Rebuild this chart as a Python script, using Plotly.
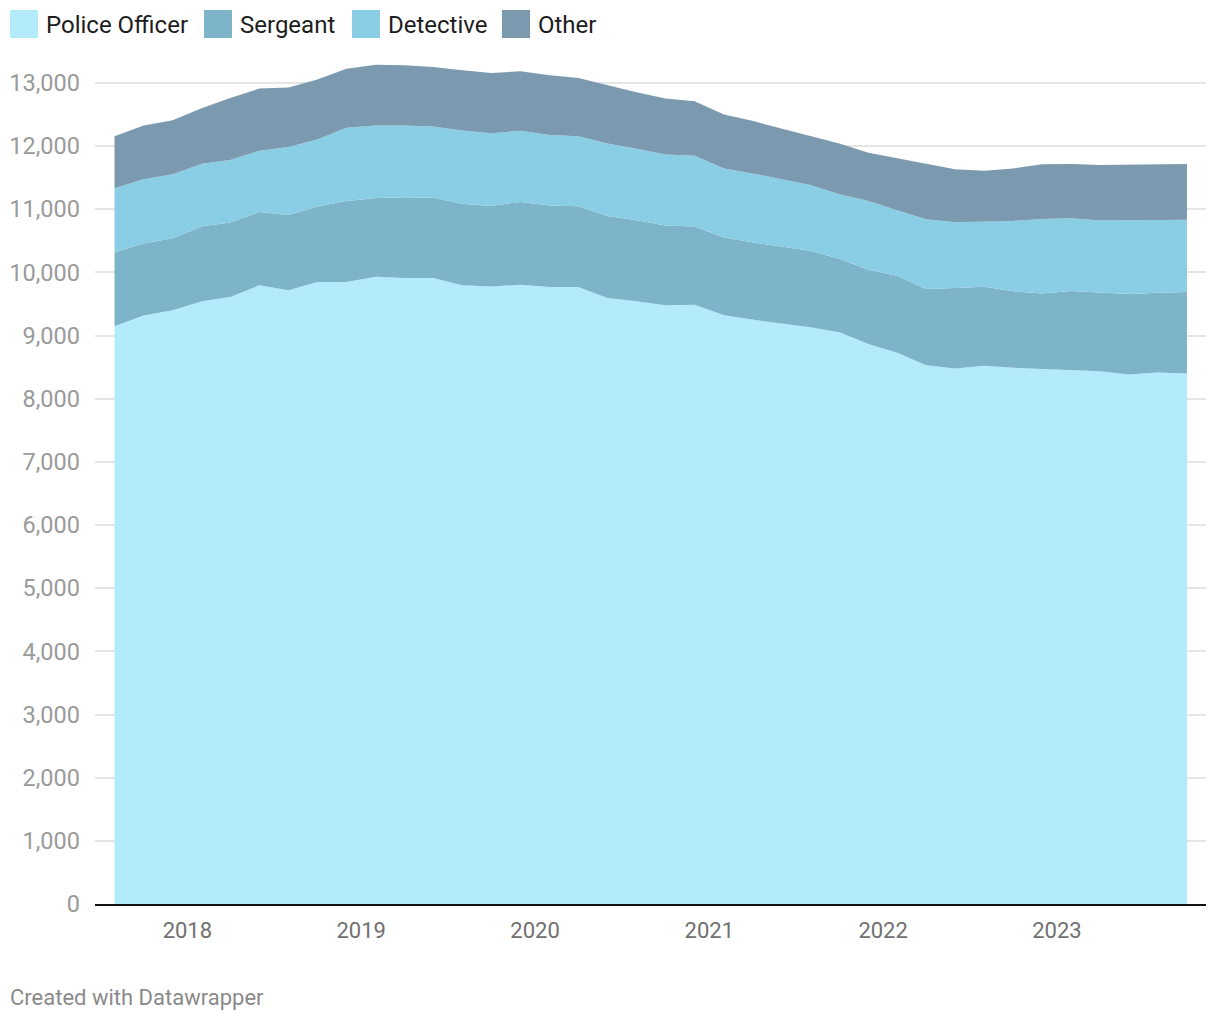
import plotly.graph_objects as go

dates = [
    "2017-08-01", "2017-10-01", "2017-12-01",
    "2018-02-01", "2018-04-01", "2018-06-01", "2018-08-01", "2018-10-01", "2018-12-01",
    "2019-02-01", "2019-04-01", "2019-06-01", "2019-08-01", "2019-10-01", "2019-12-01",
    "2020-02-01", "2020-04-01", "2020-06-01", "2020-08-01", "2020-10-01", "2020-12-01",
    "2021-02-01", "2021-04-01", "2021-06-01", "2021-08-01", "2021-10-01", "2021-12-01",
    "2022-02-01", "2022-04-01", "2022-06-01", "2022-08-01", "2022-10-01", "2022-12-01",
    "2023-02-01", "2023-04-01", "2023-06-01", "2023-08-01", "2023-10-01",
]

police_officer = [
    9147, 9316, 9400, 9542, 9611, 9795, 9716, 9847, 9847, 9930,
    9911, 9911, 9795, 9779, 9805, 9768, 9768, 9595, 9542, 9479,
    9489, 9321, 9253, 9195, 9132, 9053, 8868, 8726, 8532, 8479,
    8521, 8489, 8474, 8458, 8437, 8384, 8416, 8400,
]
sergeant = [
    1169, 1142, 1142, 1190, 1178, 1163, 1195, 1195, 1285, 1250,
    1278, 1273, 1294, 1274, 1311, 1290, 1279, 1300, 1285, 1263,
    1237, 1232, 1226, 1216, 1210, 1163, 1174, 1219, 1205, 1274,
    1253, 1211, 1194, 1247, 1247, 1274, 1263, 1289,
]
detective = [
    1016, 1016, 1011, 989, 990, 968, 1073, 1063, 1157, 1145,
    1137, 1127, 1158, 1152, 1126, 1116, 1111, 1147, 1131, 1126,
    1121, 1094, 1089, 1068, 1042, 1021, 1090, 1035, 1105, 1042,
    1026, 1116, 1179, 1153, 1137, 1168, 1158, 1143,
]
other = [
    826, 852, 858, 884, 984, 985, 942, 948, 937, 964,
    953, 942, 953, 953, 942, 947, 921, 921, 894, 885,
    864, 853, 832, 800, 779, 805, 763, 825, 869, 837,
    811, 831, 864, 858, 879, 879, 879, 884,
]

series_names = ["Police Officer", "Sergeant", "Detective", "Other"]
series_values = [police_officer, sergeant, detective, other]
series_colors = ["#b3ebfd", "#7eb4ca", "#8acee6", "#7b9aaf"]

year_ticks = ["2018-01-01", "2019-01-01", "2020-01-01", "2021-01-01", "2022-01-01", "2023-01-01"]
year_labels = ["2018", "2019", "2020", "2021", "2022", "2023"]

# page has an 8px body margin: work in page pixels, convert to figure pixels
OFF = 8
W, H = 1220 - OFF, 1020 - OFF
PLOT_L, PLOT_R, PLOT_T, PLOT_B = 95, 1206, 64, 904  # page pixels
L = PLOT_L - OFF
R = W - (PLOT_R - OFF)
T = PLOT_T - OFF
B = H - (PLOT_B - OFF)
PW, PH = PLOT_R - PLOT_L, PLOT_B - PLOT_T


def px_x(p):
    return (p - PLOT_L) / PW


def px_y(p):
    return (PLOT_B - p) / PH


fig = go.Figure()
for name, vals, col in zip(series_names, series_values, series_colors):
    fig.add_trace(go.Scatter(
        x=dates, y=vals, name=name, stackgroup="one", mode="lines",
        line=dict(width=0, color=col), fillcolor=col, showlegend=False,
        hoverinfo="x+y+name",
    ))

# custom legend (square swatches)
legend_x = [10, 204, 352, 502]
for name, col, lx in zip(series_names, series_colors, legend_x):
    fig.add_shape(type="rect", xref="paper", yref="paper",
                  x0=px_x(lx), x1=px_x(lx + 28), y0=px_y(38), y1=px_y(10),
                  fillcolor=col, line=dict(width=0), layer="above")
    fig.add_annotation(x=px_x(lx + 34), y=px_y(25), xref="paper", yref="paper",
                       text=name, showarrow=False, xanchor="left", yanchor="middle",
                       font=dict(family="Roboto", size=24, color="#1d1d1d"))

fig.add_annotation(x=px_x(8), y=px_y(997), xref="paper", yref="paper",
                   text="Created with Datawrapper", showarrow=False,
                   xanchor="left", yanchor="middle",
                   font=dict(family="Roboto", size=22, color="#8a8a8a"))

fig.update_layout(
    width=W, height=H,
    margin=dict(l=L, r=R, t=T, b=B, pad=0, autoexpand=False),
    paper_bgcolor="white", plot_bgcolor="white",
    font=dict(family="Roboto"),
    showlegend=False,
    xaxis=dict(
        type="date",
        range=["2017-06-21", "2023-11-10"],
        tickvals=year_ticks, ticktext=year_labels,
        showgrid=False, zeroline=False,
        showline=True, linecolor="#111111", linewidth=2,
        ticks="", tickfont=dict(size=22, color="#707070"),
        ticklabelstandoff=6,
        layer="above traces",
        automargin=False,
    ),
    yaxis=dict(
        range=[0, 13300],
        dtick=1000, tick0=0, tickformat=",d",
        showgrid=True, gridcolor="rgba(0,0,0,0.1)", gridwidth=1.5,
        zeroline=False, showline=False, ticks="",
        tickfont=dict(size=23.5, color="#9a9a9a"),
        ticklabelstandoff=14,
        layer="above traces",
        fixedrange=True,
        automargin=False,
    ),
)

fig.write_html("out.html")
